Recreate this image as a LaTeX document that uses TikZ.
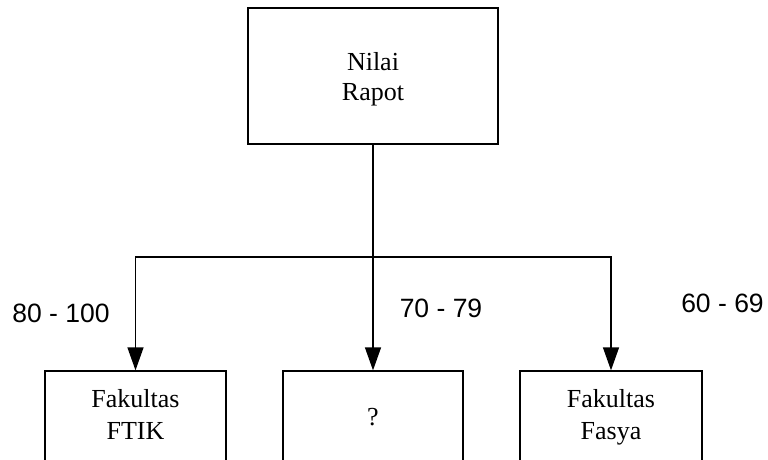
\documentclass[tikz,border=0pt]{standalone}
\usepackage{fontspec}
\setmainfont{Liberation Serif}
\newfontfamily\arialf{Liberation Sans}
\usetikzlibrary{arrows.meta}
\begin{document}
\begin{tikzpicture}[x=1pt,y=-1pt,
  box/.style={draw, line width=1.3pt, inner sep=0pt, align=center,
    font=\fontsize{26}{32}\selectfont},
  boxtext/.style={inner sep=0pt, align=center, font=\fontsize{26}{30}\selectfont},
  conn/.style={line width=1.3pt, -{Triangle[width=16pt,length=23pt]}},
  lbl/.style={font=\arialf\fontsize{26.5}{30}\selectfont, inner sep=0pt}]
\useasboundingbox (0,0) rectangle (768,459);
\clip (0,0) rectangle (768,459);
\node[box, minimum width=250pt, minimum height=136pt,
  label={[boxtext, yshift=-3pt]center:{Nilai\strut\\Rapot\strut}}] (top) at (373,76) {};
\node[box, minimum width=181pt, minimum height=92pt] (b1) at (135.5,417) {Fakultas\strut\\FTIK\strut};
\node[box, minimum width=180pt, minimum height=92pt] (b2) at (373,417) {?};
\node[box, minimum width=182pt, minimum height=92pt] (b3) at (611,417) {Fakultas\strut\\Fasya\strut};
\coordinate (j) at (373,257);
\draw[conn] (top.south) -- (b2.north);
\draw[conn] (j) -| (b1.north);
\draw[conn] (j) -| (b3.north);
\node[lbl] (l1) at (61,313.5) {80 - 100};
\node[lbl] (l2) at (441,308.5) {70 - 79};
\node[lbl] (l3) at (722.5,303.5) {60 - 69};
\end{tikzpicture}
\end{document}
